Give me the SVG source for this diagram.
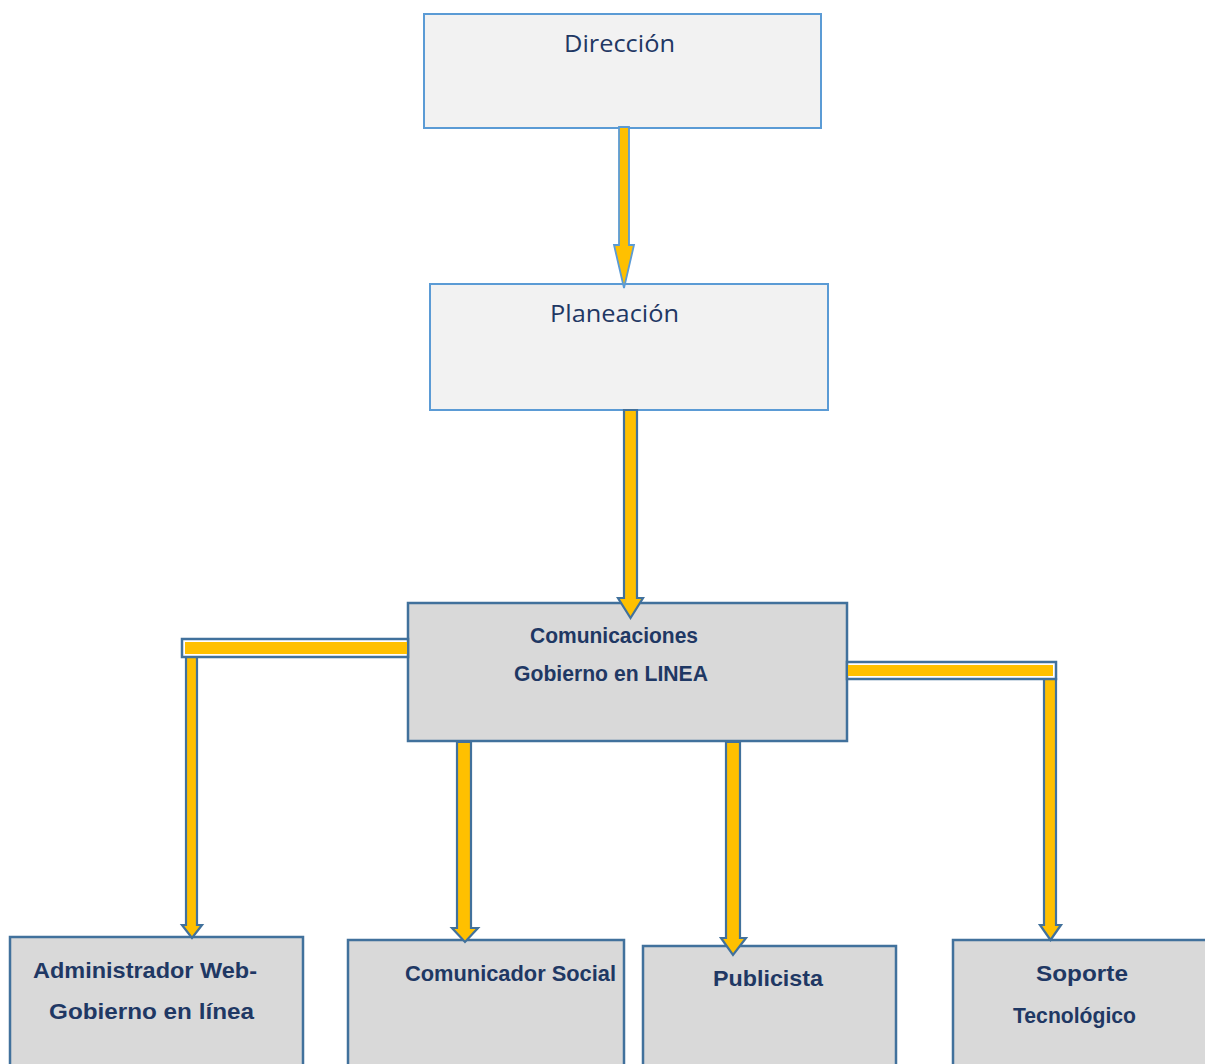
<svg xmlns="http://www.w3.org/2000/svg" width="1205" height="1064" viewBox="0 0 1205 1064">
<style>
.top{fill:#f2f2f2;stroke:#5b9bd5;stroke-width:2}
.box{fill:#d9d9d9;stroke:#41719c;stroke-width:2.5}
.t1{font-family:"Open Sans","Liberation Sans",sans-serif;font-size:24px;fill:#1f3864}
.t2{font-family:"Liberation Sans",sans-serif;font-weight:bold;font-size:22px;fill:#1f3864}
.arL{fill:#ffc000;stroke:#5b9bd5;stroke-width:1.8;stroke-linejoin:miter}
.ar{fill:#ffc000;stroke:#41719c;stroke-width:2.2;stroke-linejoin:miter}
.bar{fill:#ffffff;stroke:#41719c;stroke-width:2.5}
.bari{fill:#ffc000}
</style>
<rect width="1205" height="1064" fill="#ffffff"/>
<g id="direccion">
<rect class="top" x="424" y="14" width="397" height="114"/>
<text class="t1" x="564" y="52" textLength="111" lengthAdjust="spacingAndGlyphs">Dirección</text>
</g>
<g id="planeacion">
<rect class="top" x="430" y="284" width="398" height="126"/>
<text class="t1" x="550" y="322" textLength="129" lengthAdjust="spacingAndGlyphs">Planeación</text>
</g>
<g id="comunicaciones">
<rect class="box" x="408" y="603" width="439" height="138"/>
<text class="t2" x="530" y="643" textLength="168" lengthAdjust="spacingAndGlyphs">Comunicaciones</text>
<text class="t2" x="514" y="681" textLength="194" lengthAdjust="spacingAndGlyphs">Gobierno en LINEA</text>
</g>
<g id="administrador">
<rect class="box" x="10" y="937" width="293" height="140"/>
<text class="t2" x="33" y="978" textLength="224" lengthAdjust="spacingAndGlyphs">Administrador Web-</text>
<text class="t2" x="49" y="1019" textLength="205" lengthAdjust="spacingAndGlyphs">Gobierno en línea</text>
</g>
<g id="comunicador">
<rect class="box" x="348" y="940" width="276" height="140"/>
<text class="t2" x="405" y="981" textLength="211" lengthAdjust="spacingAndGlyphs">Comunicador Social</text>
</g>
<g id="publicista">
<rect class="box" x="643" y="946" width="253" height="140"/>
<text class="t2" x="713" y="986" textLength="110" lengthAdjust="spacingAndGlyphs">Publicista</text>
</g>
<g id="soporte">
<rect class="box" x="953" y="940" width="260" height="140"/>
<text class="t2" x="1036" y="981" textLength="92" lengthAdjust="spacingAndGlyphs">Soporte</text>
<text class="t2" x="1013" y="1023" textLength="123" lengthAdjust="spacingAndGlyphs">Tecnológico</text>
</g>
<g id="connectors">
<polygon class="arL" points="619,127 629,127 629,245 634,245 624,288 614,245 619,245"/>
<polygon class="ar" points="624,410 637,410 637,598 643,598 630.5,618 618,598 624,598"/>
<polygon class="ar" points="186,657 197,657 197,925 202,925 192,938 182,925 186,925"/>
<rect class="bar" x="182" y="639" width="226" height="18"/>
<rect class="bari" x="185" y="642" width="222" height="12"/>
<polygon class="ar" points="1044,679 1056,679 1056,925 1061,925 1050.5,940 1040,925 1044,925"/>
<rect class="bar" x="847" y="662" width="209" height="17"/>
<rect class="bari" x="848" y="665" width="205" height="11"/>
<polygon class="ar" points="457,742 471,742 471,928 478,928 465,942 452,928 457,928"/>
<polygon class="ar" points="726,742 740,742 740,938 746,938 733,955 721,938 726,938"/>
</g>
</svg>
